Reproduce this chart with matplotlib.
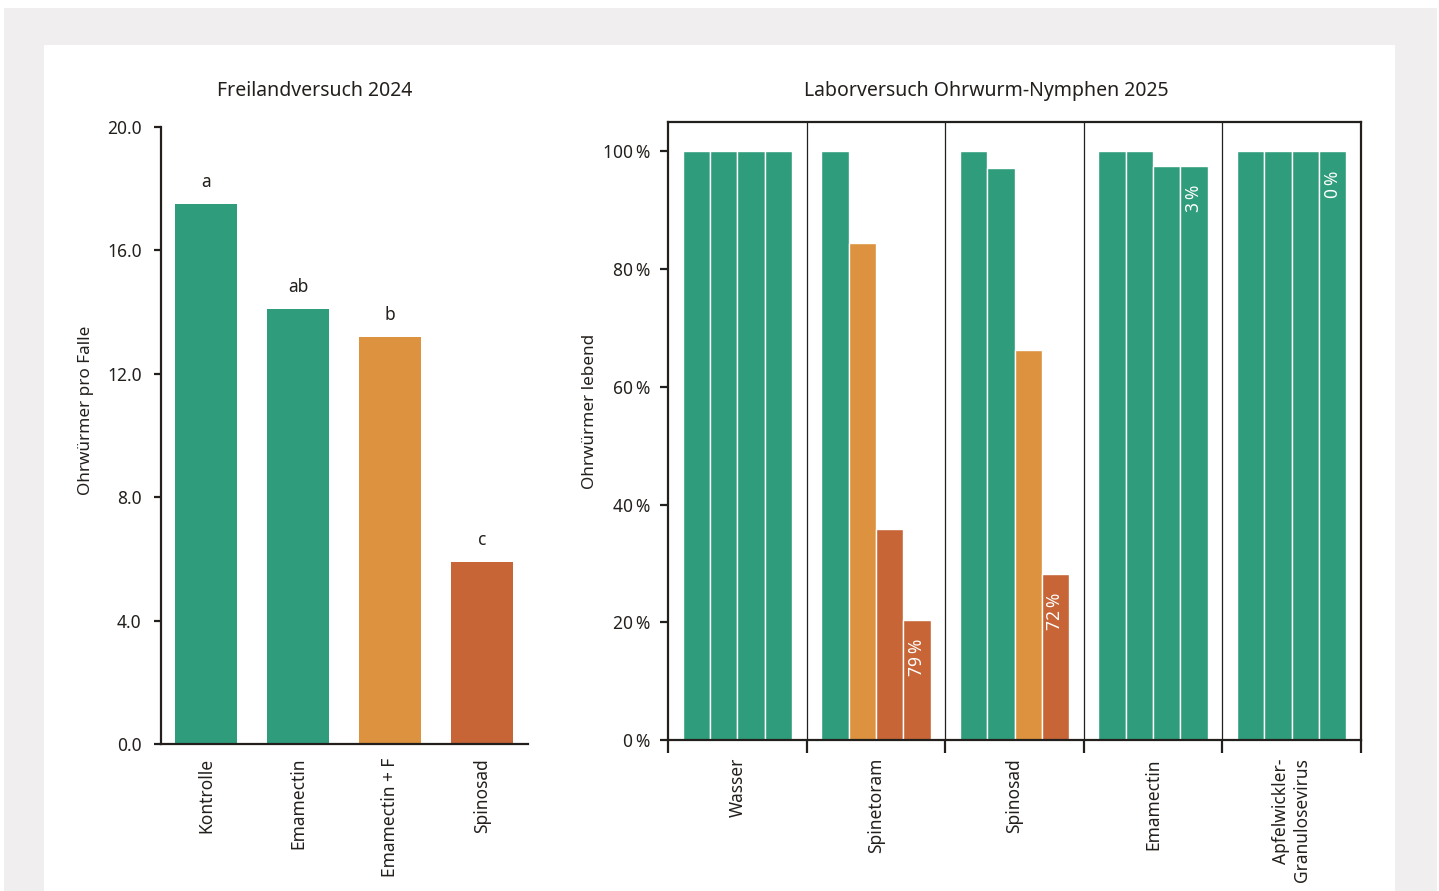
import numpy as np
import matplotlib
matplotlib.use("Agg")
import matplotlib.pyplot as plt
from matplotlib.patches import Rectangle

plt.rcParams['font.family'] = ['Noto Sans', 'DejaVu Sans']

# --- data -------------------------------------------------------------
field_cats = ["Kontrolle", "Emamectin", "Emamectin + F", "Spinosad"]
field_vals = [17.5, 14.1, 13.2, 5.9]
field_letters = ["a", "ab", "b", "c"]
field_colors = ["green", "green", "orange", "red"]

lab_groups = ["Wasser", "Spinetoram", "Spinosad", "Emamectin",
              "Apfelwickler-\nGranulosevirus"]
lab_vals = [
    [100, 100, 100, 100],
    [100, 84.5, 35.9, 20.4],
    [100, 97.1, 66.3, 28.2],
    [100, 100, 97.5, 97.5],
    [100, 100, 100, 100],
]
lab_colors = [
    ["green", "green", "green", "green"],
    ["green", "orange", "red", "red"],
    ["green", "green", "orange", "red"],
    ["green", "green", "green", "green"],
    ["green", "green", "green", "green"],
]
lab_notes = ["", "79\u2009%", "72\u2009%", "3\u2009%", "0\u2009%"]
y_ticks_lab = [0, 20, 40, 60, 80, 100]
y_ticks_field = [0, 4, 8, 12, 16, 20]

palette = {"green": "#2f9c7b", "orange": "#dc923e", "red": "#c76537"}
ink = "#231f1c"
fs_tick = 12.5
fs_label = 12.3
fs_title = 14

W, H = 1439, 891
fig = plt.figure(figsize=(W / 100, H / 100), dpi=100)

# background frame
fig.patches.append(Rectangle((4 / W, 0), 1433 / W, 1 - 8 / H, transform=fig.transFigure,
                             facecolor="#f0eeee", edgecolor="none", zorder=-10))
fig.patches.append(Rectangle((44 / W, 0), 1351 / W, 1 - 45 / H, transform=fig.transFigure,
                             facecolor="white", edgecolor="none", zorder=-9))


def box(l, t, r, b):
    return [l / W, 1 - b / H, (r - l) / W, (b - t) / H]


# --- left chart -------------------------------------------------------
ax1 = fig.add_axes(box(161, 127, 528, 744))
ax1.patch.set_alpha(0)
x = np.arange(len(field_cats))
ax1.bar(x, field_vals, width=0.67, color=[palette[c] for c in field_colors])
for xi, v, l in zip(x, field_vals, field_letters):
    ax1.text(xi, v + 0.55, l, ha="center", va="baseline", fontsize=fs_tick, color=ink)
ax1.set_xlim(-0.49, 3.5)
ax1.set_ylim(0, 20)
ax1.set_yticks(y_ticks_field)
ax1.set_yticklabels([f"{t:.1f}" for t in y_ticks_field])
ax1.set_xticks(x)
ax1.set_xticklabels(field_cats, rotation=90, va="top", ha="center")
for s in ["top", "right"]:
    ax1.spines[s].set_visible(False)
for s in ["left", "bottom"]:
    ax1.spines[s].set_color(ink)
    ax1.spines[s].set_linewidth(1.6)
ax1.tick_params(axis="y", length=5, width=1.6, color=ink, pad=9, labelsize=fs_tick, labelcolor=ink)
ax1.tick_params(axis="x", length=0, pad=10, labelsize=fs_tick, labelcolor=ink)

fig.text(315 / W, 1 - 91 / H, "Freilandversuch 2024", ha="center", va="center",
         fontsize=fs_title, color=ink)
fig.text(86 / W, 1 - 410 / H, "Ohrwürmer pro Falle", ha="center", va="center",
         rotation=90, fontsize=fs_label, color=ink)

# --- right chart ------------------------------------------------------
ax2 = fig.add_axes(box(668, 122, 1361, 740))
ax2.patch.set_alpha(0)
bw = 0.197
for gi, (vals, cols, note) in enumerate(zip(lab_vals, lab_colors, lab_notes)):
    xs = gi + 0.5 + (np.arange(4) - 1.5) * bw
    ax2.bar(xs, vals, width=bw, color=[palette[c] for c in cols],
            edgecolor="white", linewidth=1.0, zorder=2)
    if note:
        ax2.text(xs[-1], vals[-1] - 3.2, note, rotation=90, ha="center", va="top",
                 color="white", fontsize=fs_tick, zorder=3)
for b in range(1, len(lab_groups)):
    ax2.axvline(b, color=ink, linewidth=0.9, zorder=1)
ax2.set_xlim(0, len(lab_groups))
ax2.set_ylim(0, 105)
ax2.set_yticks(y_ticks_lab)
ax2.set_yticklabels([f"{t}\u2009%" for t in y_ticks_lab])
ax2.set_xticks(np.arange(len(lab_groups) + 1))
ax2.set_xticklabels([])
ax2.set_xticks(np.arange(len(lab_groups)) + 0.5, minor=True)
ax2.set_xticklabels(lab_groups, minor=True, rotation=90, va="top", ha="center",
                    multialignment="right")
for s in ax2.spines.values():
    s.set_color(ink)
    s.set_linewidth(1.6)
ax2.tick_params(axis="y", length=6, width=1.6, color=ink, pad=7, labelsize=fs_tick, labelcolor=ink)
ax2.tick_params(axis="x", which="major", length=9, width=1.6, color=ink)
ax2.tick_params(axis="x", which="minor", length=0, pad=13, labelsize=fs_tick, labelcolor=ink)

fig.text(986 / W, 1 - 91 / H, "Laborversuch Ohrwurm-Nymphen 2025", ha="center",
         va="center", fontsize=fs_title, color=ink)
fig.text(590 / W, 1 - 411 / H, "Ohrwürmer lebend", ha="center", va="center",
         rotation=90, fontsize=fs_label, color=ink)

fig.savefig("out.png", dpi=100)
